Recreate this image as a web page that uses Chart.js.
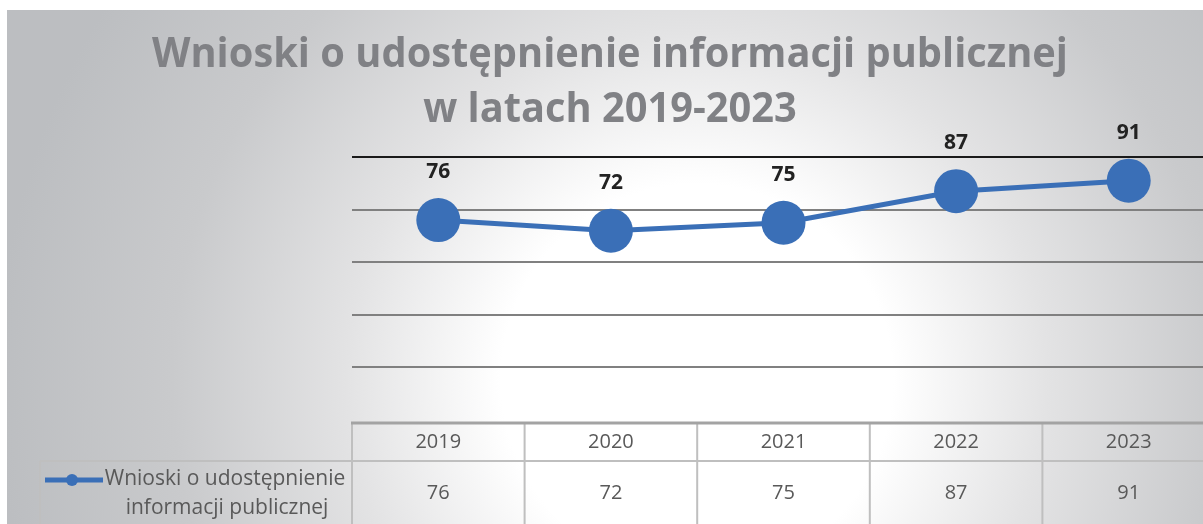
<!DOCTYPE html>
<html>
<head>
<meta charset="utf-8">
<script src="https://cdn.jsdelivr.net/npm/chart.js@4.4.0/dist/chart.umd.min.js"></script>
<style>
  html, body { margin: 0; padding: 0; background: #fff; overflow: hidden; }
  #wrap { position: absolute; left: 7px; top: 10px; width: 1230px; height: 514px; }
</style>
</head>
<body>
<div id="wrap"><canvas id="chart1" width="1230" height="514"></canvas></div>
<script>
const years = ["2019", "2020", "2021", "2022", "2023"];
const wnioski = [76, 72, 75, 87, 91];
const seriesName = ["Wnioski o udostępnienie", "informacji publicznej"];
const titleLines = ["Wnioski o udostępnienie informacji publicznej", "w latach 2019-2023"];

const blue = "#3a6fb7";
const textGray = "#595959";

// napis ściśnięty w poziomie (oryginał to wąski Calibri)
const drawText = (ctx, txt, x, y, font, sx) => {
  ctx.save();
  ctx.font = font;
  ctx.translate(x, y);
  ctx.scale(sx, 1);
  ctx.fillText(txt, 0, 0);
  ctx.restore();
};

const tloPlugin = {
  id: "tlo",
  beforeDraw(chart) {
    const ctx = chart.ctx;
    ctx.save();
    const g = ctx.createRadialGradient(690, 370, 0, 690, 370, 700);
    g.addColorStop(0, "#ffffff");
    g.addColorStop(0.28, "#ffffff");
    g.addColorStop(0.5, "#e3e3e4");
    g.addColorStop(0.75, "#c9cacc");
    g.addColorStop(1, "#bcbec1");
    ctx.fillStyle = g;
    ctx.fillRect(0, 0, chart.width, chart.height);

    // tytuł
    ctx.fillStyle = "#808185";
    ctx.textAlign = "left";
    ctx.textBaseline = "alphabetic";
    const font = "bold 42px 'Open Sans'";
    ctx.font = font;
    const w1 = ctx.measureText(titleLines[0]).width;
    const sx = 916 / w1;
    drawText(ctx, titleLines[0], 603 - 458, 57, font, sx);
    const w2 = ctx.measureText(titleLines[1]).width * sx;
    drawText(ctx, titleLines[1], 603 - w2 / 2, 112, font, sx);
    ctx.restore();
  },
  afterDraw(chart) {
    const ctx = chart.ctx;
    const xs = chart.scales.x;
    const area = chart.chartArea;
    const colW = (area.right - area.left) / years.length;
    const top = area.bottom + 3;
    const mid = area.bottom + 41;
    const bottom = chart.height;
    ctx.save();

    // etykiety danych
    const meta = chart.getDatasetMeta(0);
    ctx.fillStyle = "#222222";
    ctx.font = "bold 21px 'Open Sans'";
    ctx.textAlign = "center";
    ctx.textBaseline = "middle";
    meta.data.forEach((pt, i) => {
      ctx.fillText(String(wnioski[i]), pt.x, pt.y - 48);
    });

    // tabela danych
    ctx.strokeStyle = "#bfbfbf";
    ctx.lineWidth = 2;
    ctx.beginPath();
    ctx.moveTo(33, mid);
    ctx.lineTo(chart.width, mid);
    ctx.moveTo(33, mid);
    ctx.lineTo(33, bottom);
    for (let i = 0; i < years.length; i++) {
      const x = area.left + i * colW;
      ctx.moveTo(x, top);
      ctx.lineTo(x, bottom);
    }
    ctx.stroke();
    ctx.strokeStyle = "#a3a3a3";
    ctx.lineWidth = 3;
    ctx.beginPath();
    ctx.moveTo(area.left - 1, top);
    ctx.lineTo(chart.width, top);
    ctx.stroke();

    ctx.fillStyle = textGray;
    ctx.font = "20px 'Open Sans'";
    years.forEach((y, i) => {
      const x = xs.getPixelForValue(i);
      ctx.fillText(y, x, top + 19);
      ctx.fillText(String(wnioski[i]), x, mid + 32);
    });

    // legenda w tabeli
    ctx.strokeStyle = blue;
    ctx.lineWidth = 5;
    ctx.beginPath();
    ctx.moveTo(38, mid + 19);
    ctx.lineTo(96, mid + 19);
    ctx.stroke();
    ctx.fillStyle = blue;
    ctx.beginPath();
    ctx.arc(65, mid + 19, 6, 0, Math.PI * 2);
    ctx.fill();
    ctx.fillStyle = textGray;
    ctx.font = "21px 'Open Sans'";
    ctx.fillText(seriesName[0], 218, mid + 18);
    ctx.fillText(seriesName[1], 220, mid + 47);
    ctx.restore();
  },
};

new Chart(document.getElementById("chart1"), {
  type: "line",
  data: {
    labels: years,
    datasets: [
      {
        label: seriesName.join(" "),
        data: wnioski,
        borderColor: blue,
        backgroundColor: blue,
        borderWidth: 5,
        pointRadius: 22,
        pointHoverRadius: 22,
        pointBorderWidth: 0,
        pointBackgroundColor: blue,
        tension: 0,
      },
    ],
  },
  options: {
    responsive: false,
    animation: false,
    layout: { padding: { left: 345, right: 20, top: 147, bottom: 104 } },
    plugins: {
      legend: { display: false },
      title: { display: false },
      tooltip: { enabled: false },
    },
    scales: {
      x: { display: false, offset: true },
      y: {
        min: 0,
        max: 100,
        ticks: { display: false, stepSize: 20 },
        border: { display: false },
        grid: {
          drawTicks: false,
          lineWidth: 2,
          color: (c) => (c.tick.value === 100 ? "#1a1a1a" : c.tick.value === 0 ? "rgba(0,0,0,0)" : "#808080"),
        },
      },
    },
  },
  plugins: [tloPlugin],
});
</script>
</body>
</html>
